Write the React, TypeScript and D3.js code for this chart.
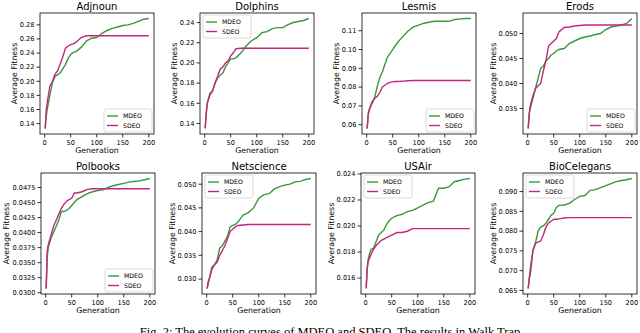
import React from "react";
import * as d3 from "d3";

const generations = [1, 3, 5, 10, 15, 20, 25, 30, 35, 40, 45, 50, 55, 60, 70, 80, 90, 100, 110, 120, 130, 140, 150, 160, 170, 180, 190, 200];

const adjnounMDEO = [0.133, 0.15, 0.16, 0.18, 0.198, 0.207, 0.209, 0.212, 0.218, 0.224, 0.232, 0.238, 0.241, 0.242, 0.248, 0.257, 0.261, 0.262, 0.268, 0.272, 0.275, 0.277, 0.279, 0.28, 0.282, 0.285, 0.288, 0.289];
const adjnounSDEO = [0.133, 0.16, 0.17, 0.193, 0.2, 0.21, 0.215, 0.225, 0.235, 0.247, 0.25, 0.252, 0.253, 0.255, 0.262, 0.2645, 0.2645, 0.2645, 0.2645, 0.2645, 0.2645, 0.2645, 0.2645, 0.2645, 0.2645, 0.2645, 0.2645, 0.2645];

const dolphinsMDEO = [0.136, 0.15, 0.16, 0.17, 0.172, 0.18, 0.185, 0.188, 0.19, 0.196, 0.2, 0.204, 0.204, 0.205, 0.21, 0.217, 0.222, 0.225, 0.23, 0.231, 0.234, 0.235, 0.235, 0.238, 0.24, 0.241, 0.242, 0.244];
const dolphinsSDEO = [0.135, 0.15, 0.16, 0.168, 0.172, 0.18, 0.187, 0.194, 0.196, 0.2, 0.202, 0.207, 0.21, 0.214, 0.2145, 0.2145, 0.2145, 0.2145, 0.2145, 0.2145, 0.2145, 0.2145, 0.2145, 0.2145, 0.2145, 0.2145, 0.2145, 0.2145];

const lesmisMDEO = [0.058, 0.065, 0.068, 0.071, 0.074, 0.08, 0.085, 0.088, 0.092, 0.096, 0.098, 0.1, 0.102, 0.104, 0.107, 0.11, 0.112, 0.113, 0.114, 0.1145, 0.115, 0.115, 0.115, 0.1152, 0.116, 0.1163, 0.1165, 0.1165];
const lesmisSDEO = [0.058, 0.066, 0.068, 0.072, 0.074, 0.075, 0.077, 0.08, 0.081, 0.082, 0.0825, 0.0828, 0.083, 0.083, 0.0832, 0.0834, 0.0835, 0.0835, 0.0835, 0.0835, 0.0835, 0.0835, 0.0835, 0.0835, 0.0835, 0.0835, 0.0835, 0.0835];

const erodsMDEO = [0.031, 0.034, 0.035, 0.037, 0.039, 0.041, 0.043, 0.0435, 0.0445, 0.045, 0.0457, 0.046, 0.0465, 0.0468, 0.047, 0.048, 0.0485, 0.049, 0.0493, 0.0495, 0.0498, 0.05, 0.0508, 0.0513, 0.0515, 0.0517, 0.052, 0.053];
const erodsSDEO = [0.031, 0.034, 0.0355, 0.0375, 0.039, 0.0395, 0.04, 0.0425, 0.0445, 0.0475, 0.048, 0.0485, 0.049, 0.0503, 0.0512, 0.0513, 0.0515, 0.0516, 0.0517, 0.0517, 0.0517, 0.0517, 0.0517, 0.0517, 0.0517, 0.0517, 0.0517, 0.0517];

const polbooksMDEO = [0.0307, 0.036, 0.0375, 0.039, 0.04, 0.041, 0.042, 0.0435, 0.0435, 0.0437, 0.044, 0.0445, 0.045, 0.0455, 0.046, 0.0465, 0.0468, 0.047, 0.0471, 0.0475, 0.0478, 0.048, 0.0482, 0.0484, 0.0485, 0.0486, 0.0488, 0.049];
const polbooksSDEO = [0.0307, 0.037, 0.038, 0.0395, 0.041, 0.042, 0.043, 0.044, 0.0447, 0.0452, 0.0455, 0.0457, 0.0466, 0.0466, 0.0468, 0.0472, 0.0473, 0.0473, 0.0473, 0.0473, 0.0473, 0.0473, 0.0473, 0.0473, 0.0473, 0.0473, 0.0473, 0.0473];

const netscienceMDEO = [0.028, 0.029, 0.03, 0.0325, 0.033, 0.034, 0.0365, 0.037, 0.038, 0.039, 0.041, 0.0413, 0.0415, 0.042, 0.0435, 0.044, 0.045, 0.047, 0.0478, 0.048, 0.049, 0.0495, 0.0498, 0.05, 0.0505, 0.0506, 0.051, 0.0512];
const netscienceSDEO = [0.028, 0.0295, 0.03, 0.032, 0.033, 0.0335, 0.035, 0.036, 0.037, 0.0385, 0.04, 0.0405, 0.041, 0.0413, 0.0414, 0.0415, 0.0415, 0.0415, 0.0415, 0.0415, 0.0415, 0.0415, 0.0415, 0.0415, 0.0415, 0.0415, 0.0415, 0.0415];

const usairMDEO = [0.0153, 0.0168, 0.0175, 0.0182, 0.0183, 0.0188, 0.0193, 0.0195, 0.0197, 0.0201, 0.0204, 0.0206, 0.0207, 0.0208, 0.0209, 0.0211, 0.0212, 0.0214, 0.0216, 0.0218, 0.0219, 0.0229, 0.0229, 0.023, 0.0234, 0.0235, 0.0236, 0.02365];
const usairSDEO = [0.0152, 0.0167, 0.0173, 0.0178, 0.0182, 0.0185, 0.0187, 0.0189, 0.019, 0.0191, 0.0192, 0.0193, 0.0194, 0.0195, 0.0195, 0.0196, 0.0198, 0.0198, 0.0198, 0.0198, 0.0198, 0.0198, 0.0198, 0.0198, 0.0198, 0.0198, 0.0198, 0.0198];

const bioMDEO = [0.0655, 0.068, 0.0705, 0.075, 0.077, 0.08, 0.081, 0.0813, 0.082, 0.083, 0.084, 0.0845, 0.086, 0.0865, 0.0866, 0.087, 0.088, 0.0888, 0.089, 0.0903, 0.0905, 0.091, 0.0915, 0.092, 0.0925, 0.0928, 0.093, 0.0933];
const bioSDEO = [0.0655, 0.068, 0.069, 0.075, 0.077, 0.0772, 0.0775, 0.079, 0.081, 0.082, 0.0825, 0.083, 0.083, 0.0831, 0.0833, 0.0834, 0.0834, 0.0834, 0.0834, 0.0834, 0.0834, 0.0834, 0.0834, 0.0834, 0.0834, 0.0834, 0.0834, 0.0834];

const xTicks = [0, 50, 100, 150, 200];
const seriesNames = ["MDEO", "SDEO"];
const GREEN = "#3a983a";
const MAGENTA = "#c2267e";

type Panel = {
  title: string;
  mdeo: number[];
  sdeo: number[];
  ticks: number[];
  digits: number;
  legend: "lr" | "ul";
  left: number;
  top: number;
};

const panels: Panel[] = [
  { title: "Adjnoun", mdeo: adjnounMDEO, sdeo: adjnounSDEO, ticks: d3.range(0.14, 0.2801, 0.02), digits: 2, legend: "lr", left: 40, top: 13 },
  { title: "Dolphins", mdeo: dolphinsMDEO, sdeo: dolphinsSDEO, ticks: d3.range(0.14, 0.2401, 0.02), digits: 2, legend: "ul", left: 200, top: 13 },
  { title: "Lesmis", mdeo: lesmisMDEO, sdeo: lesmisSDEO, ticks: d3.range(0.06, 0.1101, 0.01), digits: 2, legend: "lr", left: 362, top: 13 },
  { title: "Erods", mdeo: erodsMDEO, sdeo: erodsSDEO, ticks: d3.range(0.035, 0.05001, 0.005), digits: 3, legend: "lr", left: 523, top: 13 },
  { title: "Polbooks", mdeo: polbooksMDEO, sdeo: polbooksSDEO, ticks: d3.range(0.03, 0.04751, 0.0025), digits: 4, legend: "lr", left: 41, top: 173 },
  { title: "Netscience", mdeo: netscienceMDEO, sdeo: netscienceSDEO, ticks: d3.range(0.03, 0.05001, 0.005), digits: 3, legend: "ul", left: 202, top: 173 },
  { title: "USAir", mdeo: usairMDEO, sdeo: usairSDEO, ticks: d3.range(0.016, 0.02401, 0.002), digits: 3, legend: "ul", left: 361, top: 173 },
  { title: "BioCelegans", mdeo: bioMDEO, sdeo: bioSDEO, ticks: d3.range(0.065, 0.09001, 0.005), digits: 3, legend: "ul", left: 523, top: 173 },
];

const W = 114;
const H = 121;
const FONT = "DejaVu Sans, sans-serif";

function Chart({ p }: { p: Panel }) {
  const all = p.mdeo.concat(p.sdeo);
  const [lo, hi] = d3.extent(all) as [number, number];
  const pad = (hi - lo) * 0.05;
  const x = d3.scaleLinear().domain([1 - 9.95, 200 + 9.95]).range([0, W]);
  const y = d3.scaleLinear().domain([lo - pad, hi + pad]).range([H, 0]);
  const line = d3
    .line<number>()
    .x((_, i) => x(generations[i]))
    .y((d) => y(d));
  const fmt = d3.format(`.${p.digits}f`);
  const labelW = (p.digits + 1) * 4.1 + 2.1;

  const lgW = 48;
  const lgH = 23;
  const lgX = p.legend === "lr" ? W - lgW - 2 : 3;
  const lgY = p.legend === "lr" ? H - lgH - 2 : 2;

  return (
    <g transform={`translate(${p.left},${p.top})`} fontFamily={FONT}>
      <text x={W / 2} y={-3.5} textAnchor="middle" fontSize={10}>
        {p.title}
      </text>
      <path d={line(p.mdeo) ?? ""} fill="none" stroke={GREEN} strokeWidth={1.4} />
      <path d={line(p.sdeo) ?? ""} fill="none" stroke={MAGENTA} strokeWidth={1.4} />
      <rect x={0} y={0} width={W} height={H} fill="none" stroke="#000" strokeWidth={0.8} />
      {xTicks.map((t) => (
        <g key={t} transform={`translate(${x(t)},${H})`}>
          <line y2={3.5} stroke="#000" strokeWidth={0.8} />
          <text y={10.5} textAnchor="middle" fontSize={6.6}>
            {t}
          </text>
        </g>
      ))}
      {p.ticks.map((t) => (
        <g key={t} transform={`translate(0,${y(t)})`}>
          <line x2={-3.5} stroke="#000" strokeWidth={0.8} />
          <text x={-5.5} dy="0.35em" textAnchor="end" fontSize={6.6}>
            {fmt(t)}
          </text>
        </g>
      ))}
      <text x={W / 2} y={H + 19} textAnchor="middle" fontSize={7.8}>
        Generation
      </text>
      <text
        transform={`translate(${-5.5 - labelW - 3.5},${H / 2}) rotate(-90)`}
        textAnchor="middle"
        fontSize={7.8}
      >
        Average Fitness
      </text>
      <g transform={`translate(${lgX},${lgY})`}>
        <rect width={lgW} height={lgH} rx={2} fill="#fff" fillOpacity={0.8} stroke="#d0d0d0" strokeWidth={0.8} />
        {seriesNames.map((s, i) => (
          <g key={s} transform={`translate(0,${7 + i * 9.5})`}>
            <line x1={3} x2={14} stroke={i === 0 ? GREEN : MAGENTA} strokeWidth={1.4} />
            <text x={19} dy="0.35em" fontSize={6.2}>
              {s}
            </text>
          </g>
        ))}
      </g>
    </g>
  );
}

export default function App() {
  return (
    <svg width={640} height={333} style={{ position: "absolute", left: 0, top: 0, background: "#fff" }}>
      <rect width={640} height={333} fill="#fff" />
      {panels.map((p) => (
        <Chart key={p.title} p={p} />
      ))}
      <text x={330} y={335.5} textAnchor="middle" fontFamily="Liberation Serif, serif" fontSize={12.5}>
        Fig. 2:  The evolution curves of MDEO and SDEO. The results in Walk Trap
      </text>
    </svg>
  );
}
